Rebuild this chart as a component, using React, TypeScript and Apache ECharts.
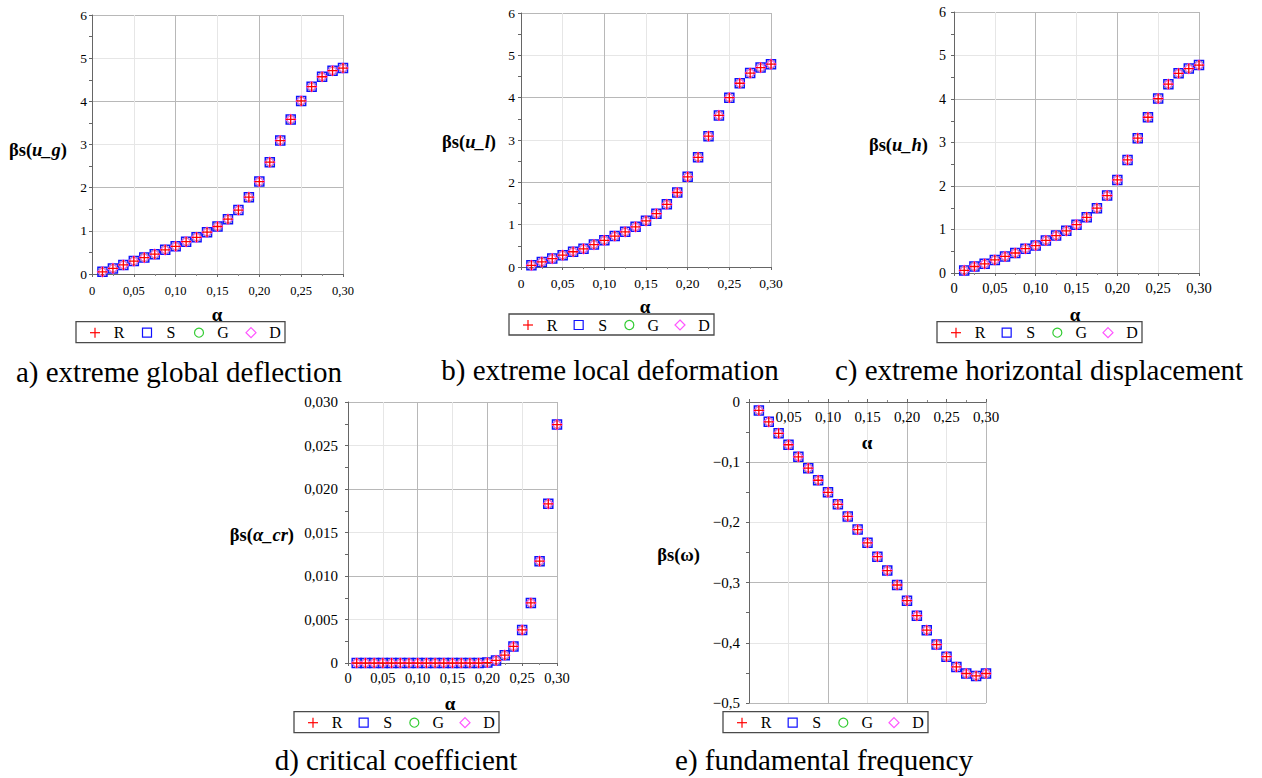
import React, { useEffect, useRef } from "react";
import * as echarts from "echarts";

// ---------- data ----------
const alpha = [0.0125, 0.025, 0.0375, 0.05, 0.0625, 0.075, 0.0875, 0.1, 0.1125, 0.125, 0.1375, 0.15,
  0.1625, 0.175, 0.1875, 0.2, 0.2125, 0.225, 0.2375, 0.25, 0.2625, 0.275, 0.2875, 0.3];

const xTicks = [0, 0.05, 0.1, 0.15, 0.2, 0.25, 0.3];

const globalDeflection = [0.05, 0.13, 0.21, 0.30, 0.38, 0.46, 0.56, 0.64, 0.75, 0.85, 0.97, 1.10,
  1.27, 1.48, 1.78, 2.14, 2.59, 3.09, 3.58, 4.01, 4.34, 4.57, 4.71, 4.77];

const localDeformation = [0.04, 0.12, 0.20, 0.28, 0.36, 0.43, 0.53, 0.63, 0.73, 0.83, 0.95, 1.09,
  1.26, 1.48, 1.76, 2.13, 2.59, 3.09, 3.58, 4.00, 4.34, 4.58, 4.71, 4.79];

const horizontalDisplacement = [0.06, 0.15, 0.21, 0.30, 0.38, 0.46, 0.56, 0.63, 0.75, 0.86, 0.97, 1.11,
  1.28, 1.49, 1.78, 2.14, 2.60, 3.10, 3.58, 4.01, 4.34, 4.59, 4.70, 4.78];

const criticalCoefficient = [0, 0, 0, 0, 0, 0, 0, 0, 0, 0, 0, 0,
  0, 0, 0, 0.00005, 0.0003, 0.0009, 0.0019, 0.0038, 0.0069, 0.0117, 0.0183, 0.0274];

const fundamentalFrequency = [-0.014, -0.033, -0.052, -0.071, -0.091, -0.110, -0.130, -0.150, -0.170, -0.190,
  -0.212, -0.234, -0.257, -0.280, -0.304, -0.330, -0.355, -0.379, -0.403, -0.423, -0.440, -0.451, -0.455, -0.451];

const methods = ["R", "S", "G", "D"];

const captions = [
  "a) extreme global deflection",
  "b) extreme local deformation",
  "c) extreme horizontal displacement",
  "d) critical coefficient",
  "e) fundamental frequency",
];

// ---------- layout / style ----------
const FONT = "Liberation Serif";

const panels = [
  {
    values: globalDeflection, grid: { left: 92, top: 15, width: 251, height: 259 },
    y: { min: 0, max: 6, interval: 1 }, yFmt: "int", xFont: 12.5, yFont: 13.5, xMargin: 10, yMargin: 5,
    yName: ["βs(", "u_g", ")"], yNamePos: [67, 150], alphaPos: [217, 314],
    legend: [76, 321.7, 209], caption: [179, 372], xTop: false,
  },
  {
    values: localDeformation, grid: { left: 521, top: 13, width: 250, height: 254 },
    y: { min: 0, max: 6, interval: 1 }, yFmt: "int", xFont: 13.5, yFont: 13.5, xMargin: 9, yMargin: 6,
    yName: ["βs(", "u_l", ")"], yNamePos: [496, 142], alphaPos: [645, 306],
    legend: [509, 314, 205], caption: [610, 370], xTop: false,
  },
  {
    values: horizontalDisplacement, grid: { left: 954, top: 12, width: 245, height: 261 },
    y: { min: 0, max: 6, interval: 1 }, yFmt: "int", xFont: 14.5, yFont: 14, xMargin: 7, yMargin: 8,
    yName: ["βs(", "u_h", ")"], yNamePos: [928, 145], alphaPos: [1075, 314],
    legend: [937, 321.7, 205], caption: [1039, 370], xTop: false,
  },
  {
    values: criticalCoefficient, grid: { left: 348, top: 402, width: 209, height: 261 },
    y: { min: 0, max: 0.03, interval: 0.005 }, yFmt: "3", xFont: 14.5, yFont: 15, xMargin: 7, yMargin: 10,
    yName: ["βs(", "α_cr", ")"], yNamePos: [294, 535], alphaPos: [450, 703],
    legend: [294, 711.7, 205], caption: [396, 760], xTop: false,
  },
  {
    values: fundamentalFrequency, grid: { left: 749, top: 402, width: 237, height: 301 },
    y: { min: -0.5, max: 0, interval: 0.1 }, yFmt: "neg1", xFont: 15, yFont: 15, xMargin: 7, yMargin: 9,
    yName: ["βs(ω)", "", ""], yNamePos: [700, 555], alphaPos: [867, 442],
    legend: [723, 711.7, 205], caption: [824, 760], xTop: true,
  },
];

const markerStyles: Record<string, any> = {
  R: { symbol: "path://M5,0L5,10M0,5L10,5", size: 10, color: "#ff0000", width: 1.3 },
  S: { symbol: "rect", size: 9, color: "#1010ff", width: 1.5 },
  G: { symbol: "circle", size: 8, color: "#33cc33", width: 1.2 },
  D: { symbol: "diamond", size: 10, color: "#ff55ff", width: 1.2 },
};

const drawOrder = ["S", "G", "D", "R"];

function fmtY(v: number, kind: string) {
  if (Math.abs(v) < 1e-12) return "0";
  if (kind === "int") return String(Math.round(v));
  if (kind === "3") return v.toFixed(3).replace(".", ",");
  return "−" + Math.abs(v).toFixed(1).replace(".", ",");
}

function legendGraphics(L: number, T: number, W: number) {
  const H = 21;
  const cy = T + H / 2 + 0.5;
  const step = (W - 19 - 10 - 24) / 3;
  const els: any[] = [
    { type: "rect", shape: { x: L, y: T, width: W, height: H }, style: { fill: "#fff", stroke: "#4a4a4a", lineWidth: 1.3 }, z: 10 },
  ];
  methods.forEach((m, i) => {
    const cx = L + 19 + i * step;
    const tx = cx + 24;
    const col = markerStyles[m].color;
    if (m === "R") {
      els.push({ type: "line", shape: { x1: cx - 5, y1: cy, x2: cx + 5, y2: cy }, style: { stroke: col, lineWidth: 1.2 }, z: 11 });
      els.push({ type: "line", shape: { x1: cx, y1: cy - 5, x2: cx, y2: cy + 5 }, style: { stroke: col, lineWidth: 1.2 }, z: 11 });
    } else if (m === "S") {
      els.push({ type: "rect", shape: { x: cx - 4.5, y: cy - 4.5, width: 9, height: 9 }, style: { fill: "none", stroke: col, lineWidth: 1.2 }, z: 11 });
    } else if (m === "G") {
      els.push({ type: "circle", shape: { cx, cy, r: 4.5 }, style: { fill: "none", stroke: col, lineWidth: 1.2 }, z: 11 });
    } else {
      els.push({ type: "polygon", shape: { points: [[cx, cy - 5], [cx + 5, cy], [cx, cy + 5], [cx - 5, cy]] }, style: { fill: "none", stroke: col, lineWidth: 1.2 }, z: 11 });
    }
    els.push({
      type: "text", x: tx, y: cy, z: 11,
      style: { text: m, fill: "#000", fontFamily: FONT, fontSize: 16, align: "center", verticalAlign: "middle" },
    });
  });
  return els;
}

export default function App() {
  const ref = useRef<HTMLDivElement>(null);

  useEffect(() => {
    if (!ref.current) return;
    const chart = echarts.init(ref.current, undefined, { renderer: "svg" });

    const grid: any[] = [];
    const xAxis: any[] = [];
    const yAxis: any[] = [];
    const series: any[] = [];
    const graphic: any[] = [];

    panels.forEach((p, i) => {
      grid.push({ ...p.grid, containLabel: false });
      xAxis.push({
        gridIndex: i, type: "value", min: xTicks[0], max: xTicks[xTicks.length - 1], interval: 0.05,
        position: p.xTop ? "top" : "bottom",
        axisLine: { show: true, onZero: false, lineStyle: { color: "#666", width: 1 } },
        axisTick: { show: true, length: 3, lineStyle: { color: "#666" } },
        minorTick: { show: true, splitNumber: 2, length: 2, lineStyle: { color: "#888" } },
        axisLabel: {
          color: "#000", fontFamily: FONT, fontSize: p.xFont, margin: p.xMargin, inside: p.xTop,
          showMinLabel: !p.xTop,
          formatter: (v: number) => (Math.abs(v) < 1e-12 ? (p.xTop ? "" : "0") : v.toFixed(2).replace(".", ",")),
        },
        splitLine: { show: true, lineStyle: { color: ["#b8b8b8", "#e6e6e6"], width: 1 } },
      });
      yAxis.push({
        gridIndex: i, type: "value", min: p.y.min, max: p.y.max, interval: p.y.interval,
        axisLine: { show: true, onZero: false, lineStyle: { color: "#666", width: 1 } },
        axisTick: { show: true, length: 3, lineStyle: { color: "#666" } },
        minorTick: { show: true, splitNumber: 2, length: 3, lineStyle: { color: "#666" } },
        axisLabel: {
          color: "#000", fontFamily: FONT, fontSize: p.yFont, margin: p.yMargin,
          formatter: (v: number) => fmtY(v, p.yFmt),
        },
        splitLine: { show: true, lineStyle: { color: ["#b8b8b8", "#e6e6e6"], width: 1 } },
      });

      drawOrder.forEach((m) => {
        const ms = markerStyles[m];
        series.push({
          name: m, type: "scatter", xAxisIndex: i, yAxisIndex: i, silent: true,
          symbol: ms.symbol, symbolSize: ms.size,
          itemStyle: { color: "rgba(0,0,0,0)", borderColor: ms.color, borderWidth: ms.width, opacity: 1 },
          data: alpha.map((a, j) => [a, p.values[j]]),
        });
      });

      // y-axis name
      graphic.push({
        type: "text", x: p.yNamePos[0], y: p.yNamePos[1],
        style: {
          text: `{b|${p.yName[0]}}` + (p.yName[1] ? `{bi|${p.yName[1]}}{b|${p.yName[2]}}` : ""),
          align: "right", verticalAlign: "middle", fill: "#000",
          fontFamily: FONT, fontSize: 18.5, fontWeight: "bold",
          rich: {
            b: { fontFamily: FONT, fontWeight: "bold", fontSize: 18.5, fill: "#000" },
            bi: { fontFamily: FONT, fontWeight: "bold", fontStyle: "italic", fontSize: 18.5, fill: "#000" },
          },
        },
      });
      // x-axis name
      graphic.push({
        type: "text", x: p.alphaPos[0], y: p.alphaPos[1],
        style: { text: "α", fill: "#000", fontFamily: FONT, fontSize: 19, fontWeight: "bold", align: "center", verticalAlign: "middle" },
      });
      // legend
      graphic.push(...legendGraphics(p.legend[0], p.legend[1], p.legend[2]));
      // caption
      graphic.push({
        type: "text", x: p.caption[0], y: p.caption[1],
        style: { text: captions[i], fill: "#000", fontFamily: FONT, fontSize: 29, align: "center", verticalAlign: "middle" },
      });
    });

    chart.setOption({
      animation: false,
      backgroundColor: "#ffffff",
      textStyle: { fontFamily: FONT },
      grid, xAxis, yAxis, series, graphic,
    });

    return () => chart.dispose();
  }, []);

  return (
    <div
      ref={ref}
      style={{ position: "fixed", left: 0, top: 0, width: 1262, height: 778, background: "#fff" }}
    />
  );
}
